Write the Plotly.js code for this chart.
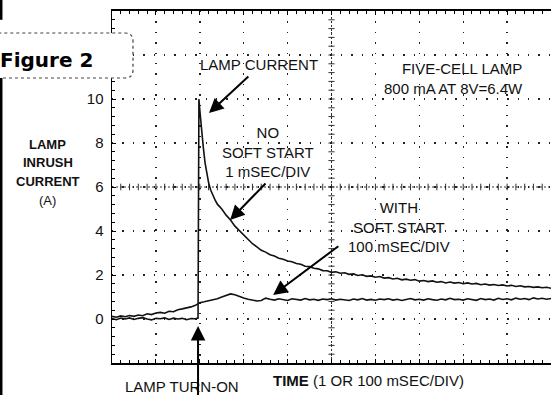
<!DOCTYPE html>
<html><head><meta charset="utf-8">
<script src="https://cdn.plot.ly/plotly-3.0.1.min.js"></script>
<style>html,body{margin:0;padding:0;background:#fff;} #chart{width:551px;height:395px;}</style>
</head><body><div id="chart"></div>
<script>
// ---- data (units: divisions on x, amperes on y) ----
const yTickVals = [-2, 0, 2, 4, 6, 8, 10, 12, 14];
const yTickText = ['', '0', '2', '4', '6', '8', '10', '', ''];
const xDivs = [0, 1, 2, 3, 4, 5, 6, 7, 8, 9, 10];

// no soft start (1 mSEC/DIV)
const noSoftX = [0,0.1,0.2,0.3,0.4,0.5,0.6,0.7,0.8,0.9,1.0,1.1,1.2,1.3,1.4,1.5,1.6,1.7,1.8,1.9,
  1.96,1.98,2.0,2.02,2.04,2.08,2.12,2.16,2.2,2.25,2.3,2.35,
  2.4,2.5,2.6,2.7,2.8,2.9,3.0,3.1,3.2,3.3,3.4,3.5,3.6,3.7,3.8,3.9,
  4.0,4.1,4.2,4.3,4.4,4.5,4.6,4.7,4.8,4.9,5.0,5.1,5.2,5.3,5.4,5.5,5.6,5.7,5.8,5.9,
  6.0,6.1,6.2,6.3,6.4,6.5,6.6,6.7,6.8,6.9,7.0,7.1,7.2,7.3,7.4,7.5,7.6,7.7,7.8,7.9,
  8.0,8.1,8.2,8.3,8.4,8.5,8.6,8.7,8.8,8.9,9.0,9.1,9.2,9.3,9.4,9.5,9.6,9.7,9.8,9.9,10.0];
const noSoftY = [0.02,-0.03,0.04,0.00,0.05,-0.02,0.03,0.06,0.00,-0.04,0.03,0.01,0.05,-0.02,0.04,0.00,0.03,-0.03,0.02,0.01,
  0.04,10.0,9.5,9.0,8.6,7.8,7.1,6.6,6.2,5.85,5.6,5.4,
  5.22,5.00,4.72,4.50,4.22,4.02,3.78,3.60,3.42,3.28,3.12,3.04,2.92,2.86,2.76,2.72,
  2.64,2.60,2.52,2.49,2.40,2.38,2.31,2.28,2.20,2.19,2.12,2.15,2.08,2.10,2.03,2.05,1.98,2.01,1.94,1.96,
  1.90,1.93,1.86,1.88,1.82,1.85,1.78,1.81,1.76,1.79,1.72,1.75,1.70,1.73,1.67,1.70,1.64,1.68,1.63,1.66,
  1.60,1.64,1.59,1.62,1.56,1.59,1.54,1.57,1.52,1.55,1.50,1.53,1.48,1.51,1.46,1.48,1.44,1.46,1.42,1.44,1.40];

// with soft start (100 mSEC/DIV)
const softX = [0,0.1,0.2,0.3,0.4,0.5,0.6,0.7,0.8,0.9,1.0,1.1,1.2,1.3,1.4,1.5,1.6,1.7,1.8,1.9,
  2.0,2.1,2.2,2.3,2.4,2.5,2.6,2.7,2.8,2.9,3.0,3.1,3.2,3.3,3.4,3.5,3.6,3.7,3.8,3.9,
  4.0,4.1,4.2,4.3,4.4,4.5,4.6,4.7,4.8,4.9,5.0,5.1,5.2,5.3,5.4,5.5,5.6,5.7,5.8,5.9,
  6.0,6.1,6.2,6.3,6.4,6.5,6.6,6.7,6.8,6.9,7.0,7.1,7.2,7.3,7.4,7.5,7.6,7.7,7.8,7.9,
  8.0,8.1,8.2,8.3,8.4,8.5,8.6,8.7,8.8,8.9,9.0,9.1,9.2,9.3,9.4,9.5,9.6,9.7,9.8,9.9,10.0];
const softY = [0.12,0.08,0.14,0.10,0.16,0.12,0.18,0.15,0.24,0.20,0.27,0.30,0.26,0.35,0.33,0.42,0.46,0.50,0.55,0.62,
  0.74,0.78,0.82,0.85,0.92,1.00,1.08,1.14,1.10,1.02,0.95,0.90,0.86,0.82,0.84,0.95,0.90,0.86,0.92,0.88,
  0.84,0.92,0.88,0.86,0.93,0.87,0.90,0.85,0.91,0.88,0.92,0.86,0.90,0.88,0.84,0.91,0.87,0.93,0.86,0.89,
  0.85,0.91,0.88,0.92,0.86,0.90,0.84,0.89,0.93,0.87,0.90,0.86,0.92,0.88,0.85,0.91,0.87,0.94,0.88,0.90,
  0.86,0.92,0.89,0.85,0.93,0.88,0.91,0.86,0.94,0.89,0.92,0.87,0.95,0.90,0.93,0.88,0.96,0.91,0.94,0.90,0.93];

// ---- traces ----
const traceStyle = {mode: 'lines', line: {color: '#111', width: 1.6}, hoverinfo: 'skip'};
const data = [
  Object.assign({x: noSoftX, y: noSoftY, name: 'No soft start'}, traceStyle),
  Object.assign({x: softX, y: softY, name: 'With soft start'}, traceStyle)
];

// ---- decorations: oscilloscope centre crosshair with sub-division ticks ----
const shapes = [];
const cx = 5, cy = 6;
shapes.push({type: 'line', xref: 'x', yref: 'y', x0: cx, x1: cx, y0: -2, y1: 14, line: {color: '#333', width: 1, dash: '2px,2px'}, layer: 'below'});
shapes.push({type: 'line', xref: 'x', yref: 'y', x0: 0, x1: 10, y0: cy, y1: cy, line: {color: '#333', width: 1, dash: '2px,2px'}, layer: 'below'});
for (let i = 1; i < 50; i++) {
  const xv = i * 0.2;
  shapes.push({type: 'line', xref: 'x', yref: 'y', x0: xv, x1: xv, y0: cy - 0.15, y1: cy + 0.15, line: {color: '#333', width: 1}, layer: 'below'});
}
for (let i = 1; i < 40; i++) {
  const yv = -2 + i * 0.4;
  shapes.push({type: 'line', xref: 'x', yref: 'y', x0: cx - 0.07, x1: cx + 0.07, y0: yv, y1: yv, line: {color: '#333', width: 1}, layer: 'below'});
}
// "Figure 2" box (dotted, rounded right corners) and page rule on the left
const bx0 = -0.30, bx1 = 0.0478, by0 = 0.8097, by1 = 0.9375, rx = 0.0182, ry = 0.0227;
shapes.push({type: 'path', xref: 'paper', yref: 'paper',
  path: `M ${bx0},${by1} L ${bx1 - rx},${by1} Q ${bx1},${by1} ${bx1},${by1 - ry} L ${bx1},${by0 + ry} Q ${bx1},${by0} ${bx1 - rx},${by0} L ${bx0},${by0} Z`,
  fillcolor: '#fff', line: {color: '#444', width: 1.2, dash: 'dot'}, layer: 'above'});
shapes.push({type: 'line', xref: 'paper', yref: 'paper', x0: -0.2529, x1: -0.2529, y0: 0.8097, y1: -0.1, line: {color: '#000', width: 3}});
shapes.push({type: 'line', xref: 'paper', yref: 'paper', x0: -0.2529, x1: -0.2529, y0: 1.04, y1: 0.975, line: {color: '#000', width: 3}});

// ---- annotations ----
const txt = {family: 'Liberation Sans, Arial, sans-serif', size: 15, color: '#111'};
const lblFont = {family: 'Liberation Sans Narrow, Liberation Sans, Arial', size: 13, color: '#111'};
const C = {showarrow: false, xanchor: 'center', yanchor: 'middle'};
const arrowStyle = {showarrow: true, arrowhead: 2, arrowsize: 1.45, arrowwidth: 2, arrowcolor: '#000', standoff: 0, text: '', axref: 'x', ayref: 'y', xref: 'x', yref: 'y'};
const annotations = [
  Object.assign({}, C, {xref: 'x', yref: 'y', x: 3.35, y: 11.55, text: 'LAMP CURRENT', font: txt}),
  Object.assign({}, C, {xref: 'x', yref: 'y', x: 9.41, y: 10.91, xanchor: 'right', align: 'right', text: 'FIVE-CELL LAMP<br>800 mA AT 8V=6.4W', font: txt}),
  Object.assign({}, C, {xref: 'x', yref: 'y', x: 3.55, y: 7.59, text: 'NO<br>SOFT START<br>1 mSEC/DIV', font: txt}),
  Object.assign({}, C, {xref: 'x', yref: 'y', x: 6.54, y: 4.18, text: 'WITH<br>SOFT START<br>100 mSEC/DIV', font: txt}),
  Object.assign({}, C, {xref: 'paper', yref: 'paper', x: 0.159, y: -0.068, text: 'LAMP TURN-ON', font: txt}),
  Object.assign({}, C, {xref: 'paper', yref: 'paper', x: 0.585, y: -0.051, text: '<b>TIME</b> (1 OR 100 mSEC/DIV)', font: txt}),
  Object.assign({}, C, {xref: 'paper', yref: 'paper', x: -0.1458, y: 0.622, text: '<b>LAMP</b>', font: lblFont}),
  Object.assign({}, C, {xref: 'paper', yref: 'paper', x: -0.1458, y: 0.571, text: '<b>INRUSH</b>', font: lblFont}),
  Object.assign({}, C, {xref: 'paper', yref: 'paper', x: -0.1458, y: 0.517, text: '<b>CURRENT</b>', font: lblFont}),
  Object.assign({}, C, {xref: 'paper', yref: 'paper', x: -0.1458, y: 0.463, text: '(A)', font: {family: 'Liberation Sans, Arial', size: 13, color: '#111'}}),
  Object.assign({}, C, {xref: 'paper', yref: 'paper', x: -0.26, y: 0.861, xanchor: 'left', text: '<b>Figure 2</b>', font: {family: 'DejaVu Sans, sans-serif', size: 20, color: '#000'}}),
  Object.assign({}, arrowStyle, {x: 2.21, y: 9.36, ax: 3.14, ay: 11.09}),
  Object.assign({}, arrowStyle, {x: 2.69, y: 4.5, ax: 3.53, ay: 6.23}),
  Object.assign({}, arrowStyle, {x: 3.67, y: 1.09, ax: 5.19, ay: 3.36}),
  Object.assign({}, arrowStyle, {x: 1.96, y: -0.32, ax: 1.96, ay: -3.6})
];

const gridStyle = {showgrid: true, gridcolor: '#222', gridwidth: 1.4, griddash: '1.4px,9px'};
const layout = {
  width: 551, height: 395,
  margin: {l: 112, r: 0, t: 11, b: 32, pad: 0},
  paper_bgcolor: '#fff', plot_bgcolor: '#fff',
  showlegend: false,
  font: {family: 'Liberation Sans, Arial, sans-serif', color: '#111', size: 15},
  xaxis: Object.assign({range: [0, 10], tickmode: 'array', tickvals: xDivs, ticktext: xDivs.map(() => ''),
    zeroline: false, showline: true, linecolor: '#000', linewidth: 2, mirror: 'allticks',
    ticks: 'inside', ticklen: 4, tickcolor: '#000',
    minor: {dtick: 0.2, tick0: 0, ticks: 'inside', ticklen: 3, tickcolor: '#000', showgrid: false},
    fixedrange: true}, gridStyle),
  yaxis: Object.assign({range: [-2, 14], tickmode: 'array', tickvals: yTickVals, ticktext: yTickText,
    zeroline: false, showline: true, linecolor: '#000', linewidth: 1.5, mirror: false,
    ticks: 'inside', ticklen: 4, tickcolor: '#000',
    minor: {dtick: 0.4, tick0: -2, ticks: 'inside', ticklen: 3, tickcolor: '#000', showgrid: false},
    tickfont: {family: 'Liberation Sans, Arial, sans-serif', size: 15, color: '#111'},
    ticklabelstandoff: 4, fixedrange: true}, gridStyle),
  shapes: shapes,
  annotations: annotations
};

Plotly.newPlot('chart', data, layout, {displayModeBar: false, staticPlot: true});
</script>
</body></html>
